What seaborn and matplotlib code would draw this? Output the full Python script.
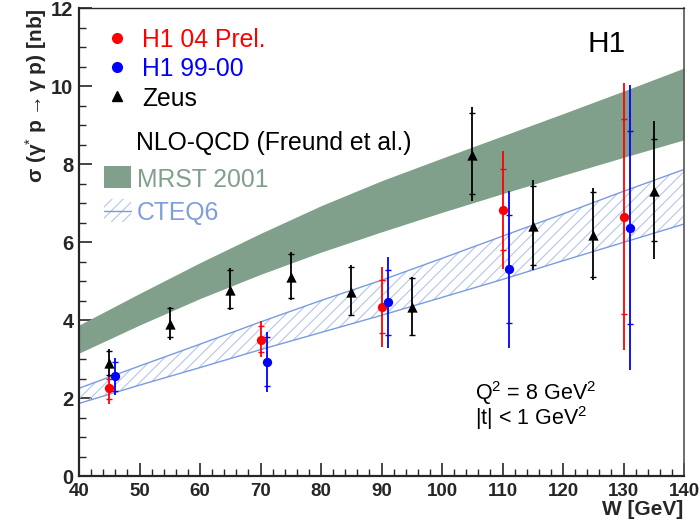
import numpy as np
import pandas as pd
import matplotlib
matplotlib.use("Agg")
import matplotlib.pyplot as plt
import seaborn as sns
from matplotlib.patches import Rectangle

# ---------------- data ----------------
# H1 04 Prel.
h104_W = [45, 70, 90, 110, 130]
h104_y = [2.26, 3.50, 4.33, 6.83, 6.64]
h104_stat_lo = [1.97, 3.19, 3.66, 5.80, 4.15]
h104_stat_hi = [2.48, 3.85, 5.02, 7.86, 9.15]
h104_tot_lo = [1.85, 3.06, 3.32, 5.32, 3.23]
h104_tot_hi = [2.55, 3.98, 5.35, 8.33, 10.07]

# H1 99-00
h199_W = [46, 71, 91, 111, 131]
h199_y = [2.56, 2.93, 4.45, 5.30, 6.37]
h199_stat_lo = [2.19, 2.31, 3.62, 3.92, 3.89]
h199_stat_hi = [2.92, 3.57, 5.28, 6.69, 8.85]
h199_tot_lo = [2.08, 2.16, 3.29, 3.29, 2.72]
h199_tot_hi = [3.02, 3.68, 5.61, 7.31, 10.03]

# Zeus
zeus_W = [45, 55, 65, 75, 85, 95, 105, 115, 125, 135]
zeus_y = [2.89, 3.91, 4.78, 5.11, 4.73, 4.34, 8.23, 6.41, 6.19, 7.32]
zeus_stat_lo = [2.59, 3.56, 4.30, 4.56, 4.13, 3.62, 7.23, 5.41, 5.09, 6.03]
zeus_stat_hi = [3.21, 4.30, 5.28, 5.68, 5.35, 5.07, 9.30, 7.44, 7.29, 8.64]
zeus_tot_lo = [2.55, 3.49, 4.26, 4.51, 4.09, 3.60, 7.06, 5.28, 5.03, 5.56]
zeus_tot_hi = [3.25, 4.34, 5.34, 5.75, 5.41, 5.10, 9.45, 7.59, 7.38, 9.10]

# NLO-QCD bands
band_W = [40, 50, 60, 70, 80, 90, 100, 110, 120, 130, 140]
mrst_lo = [3.15, 3.87, 4.55, 5.17, 5.74, 6.26, 6.76, 7.24, 7.71, 8.17, 8.62]
mrst_hi = [3.87, 4.68, 5.47, 6.22, 6.93, 7.57, 8.15, 8.72, 9.29, 9.87, 10.46]
cteq_lo = [1.86, 2.33, 2.78, 3.24, 3.68, 4.12, 4.58, 5.04, 5.52, 5.99, 6.46]
cteq_hi = [2.25, 2.82, 3.38, 3.95, 4.50, 5.02, 5.58, 6.15, 6.72, 7.30, 7.86]

x_ticks = [40, 50, 60, 70, 80, 90, 100, 110, 120, 130, 140]
y_ticks = [0, 2, 4, 6, 8, 10, 12]

# ---------------- style ----------------
sns.set_style("ticks")
plt.rcParams['font.family'] = ['Liberation Sans', 'DejaVu Sans']
plt.rcParams['mathtext.fontset'] = 'custom'
plt.rcParams['mathtext.rm'] = 'Liberation Sans'
plt.rcParams['mathtext.it'] = 'Liberation Sans:italic'
plt.rcParams['mathtext.bf'] = 'Liberation Sans:bold'
plt.rcParams['hatch.linewidth'] = 0.8

RED = '#ff0000'
BLUE = '#0000ff'
MRST_C = '#80a08c'
CTEQ_LINE = '#7a9be0'
CTEQ_HATCH = '#b4c4ec'
CTEQ_TEXT = '#7f9edc'

W_PX, H_PX = 700, 526
fig = plt.figure(figsize=(7.0, 5.26), dpi=100)
L, R, B, T = 79, 684, 476, 8
ax = fig.add_axes([L / W_PX, 1 - B / H_PX, (R - L) / W_PX, (B - T) / H_PX])

# MRST band
ax.fill_between(band_W, mrst_lo, mrst_hi, color=MRST_C, lw=0, zorder=1)
# CTEQ6 band (hatched)
ax.fill_between(band_W, cteq_lo, cteq_hi, facecolor='none', edgecolor=CTEQ_HATCH,
                hatch='///', lw=0, zorder=1)
cteq_df = pd.DataFrame({'W': band_W + band_W,
                        'v': cteq_lo + cteq_hi,
                        'edge': ['lo'] * len(band_W) + ['hi'] * len(band_W)})
sns.lineplot(data=cteq_df, x='W', y='v', units='edge', estimator=None,
             color=CTEQ_LINE, lw=1.0, ax=ax, zorder=2, legend=False)


def draw_set(W, y, slo, shi, tlo, thi, color, marker, size):
    y = np.array(y)
    ax.errorbar(W, y, yerr=[y - np.array(tlo), np.array(thi) - y], fmt='none',
                ecolor=color, elinewidth=1.3, capsize=0, zorder=3)
    ax.plot(W, slo, ls='none', marker='_', ms=5, mew=1.0, color=color, zorder=3)
    ax.plot(W, shi, ls='none', marker='_', ms=5, mew=1.0, color=color, zorder=3)
    df = pd.DataFrame({'W': W, 'y': y})
    sns.scatterplot(data=df, x='W', y='y', color=color, marker=marker, s=size,
                    edgecolor=color, linewidth=0, ax=ax, zorder=4, legend=False)


draw_set(zeus_W, zeus_y, zeus_stat_lo, zeus_stat_hi, zeus_tot_lo, zeus_tot_hi,
         'black', '^', 55)
draw_set(h104_W, h104_y, h104_stat_lo, h104_stat_hi, h104_tot_lo, h104_tot_hi,
         RED, 'o', 45)
draw_set(h199_W, h199_y, h199_stat_lo, h199_stat_hi, h199_tot_lo, h199_tot_hi,
         BLUE, 'o', 45)

# axes
ax.set_xlim(40, 140)
ax.set_ylim(0, 12)
ax.set_xticks(x_ticks)
ax.set_yticks(y_ticks)
ax.set_xticks(np.arange(40, 141, 2), minor=True)
ax.set_yticks(np.arange(0, 12.01, 0.5), minor=True)
ax.tick_params(which='major', direction='in', length=9.5, width=1.2,
               top=False, right=False)
ax.tick_params(axis='x', which='major', labelsize=13.5, pad=5)
ax.tick_params(axis='y', which='major', labelsize=14.5, pad=4)
ax.tick_params(which='minor', direction='in', length=5, width=1.0,
               top=False, right=False)
for lab in ax.get_xticklabels() + ax.get_yticklabels():
    lab.set_fontweight('bold')
ax.set_xlabel('')
ax.set_ylabel('')
ax.spines['left'].set_linewidth(1.6)
ax.spines['bottom'].set_linewidth(1.6)
ax.spines['top'].set_linewidth(1.0)
ax.spines['right'].set_linewidth(1.2)
ax.spines['right'].set_color('#555555')
for s in ax.spines.values():
    s.set_visible(True)

# axis titles
fig.text(683 / W_PX, 1 - 515 / H_PX, 'W [GeV]', ha='right', va='baseline',
         fontsize=15, fontweight='bold')
fig.text(36 / W_PX, 1 - 8 / H_PX, r'σ (γ$^{*}$ p$\rightarrow$γ p) [nb]',
         rotation=90, ha='center', va='top', fontsize=15, fontweight='bold')


# legend (manual, in pixel positions)
def px2ax(x, y):
    return (x - L) / (R - L), (B - y) / (B - T)


def axtext(x, y, s, **kw):
    ax.text(*px2ax(x, y), s, transform=ax.transAxes, **kw)


ax.plot(*px2ax(117, 38), marker='o', ms=7, color=RED, transform=ax.transAxes,
        clip_on=False, zorder=5)
ax.plot(*px2ax(117, 67), marker='o', ms=7, color=BLUE, transform=ax.transAxes,
        clip_on=False, zorder=5)
ax.plot(*px2ax(117, 96), marker='^', ms=7, color='black', transform=ax.transAxes,
        clip_on=False, zorder=5)
axtext(142, 47, 'H1 04 Prel.', color=RED, fontsize=17.8, va='baseline')
axtext(142, 76, 'H1 99-00', color=BLUE, fontsize=17.8, va='baseline')
axtext(142, 106, 'Zeus', color='black', fontsize=17.8, va='baseline')
axtext(136, 150, 'NLO-QCD (Freund et al.)', color='black', fontsize=17.8,
       va='baseline')

x0, y0 = px2ax(104, 188)
x1, y1 = px2ax(131, 166)
ax.add_patch(Rectangle((x0, y0), x1 - x0, y1 - y0, transform=ax.transAxes,
                       facecolor=MRST_C, lw=0, zorder=5))
axtext(137, 187, 'MRST 2001', color=MRST_C, fontsize=17.8, va='baseline')

x0, y0 = px2ax(104, 222)
x1, y1 = px2ax(131, 199)
ax.add_patch(Rectangle((x0, y0), x1 - x0, y1 - y0, transform=ax.transAxes,
                       facecolor='none', edgecolor=CTEQ_HATCH, hatch='///',
                       lw=0, zorder=5))
lx0, ly = px2ax(104, 211)
lx1, _ = px2ax(131, 211)
ax.plot([lx0, lx1], [ly, ly], color=CTEQ_LINE, lw=1.0, transform=ax.transAxes,
        zorder=5)
axtext(137, 220, 'CTEQ6', color=CTEQ_TEXT, fontsize=17.8, va='baseline')

# annotations
axtext(607, 52, 'H1', color='black', fontsize=21.5, ha='center', va='baseline')
axtext(475, 400, r'Q$^{2}$ = 8 GeV$^{2}$', color='black', fontsize=15.5,
       va='baseline')
axtext(475, 425, r'|t| < 1 GeV$^{2}$', color='black', fontsize=15.5,
       va='baseline')

fig.savefig('out.png', dpi=100)
